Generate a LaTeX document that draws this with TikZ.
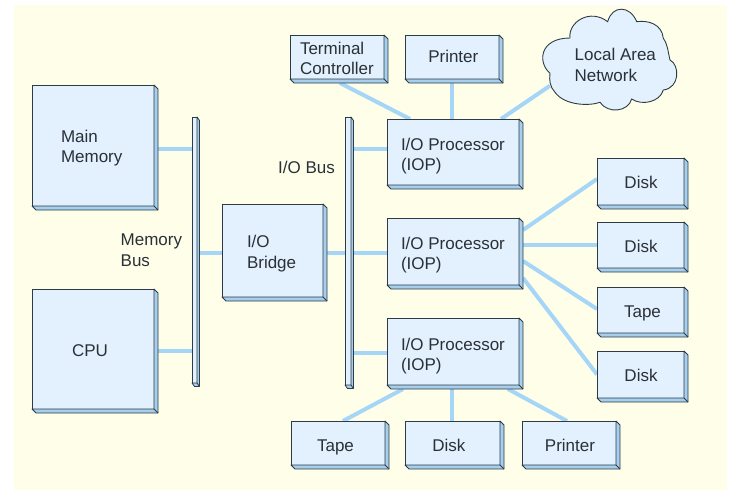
\documentclass[tikz,border=0pt]{standalone}
\usepackage{fontspec}
\setmainfont{Liberation Sans}
\usetikzlibrary{calc,backgrounds}

\definecolor{paper}{HTML}{FFFFE9}
\definecolor{boxfill}{HTML}{E2F1FD}
\definecolor{boxside}{HTML}{A6CFEE}
\definecolor{boxline}{HTML}{2E3B46}
\definecolor{wirecol}{HTML}{A5D6F7}
\definecolor{inkcol}{HTML}{2A3038}

\tikzset{
  iobox/.style={draw=boxline, fill=boxfill, line width=.9pt, inner sep=0pt, outer sep=0pt},
  boxface/.style={draw=boxline, fill=boxside, line width=.8pt, line join=round},
  wire/.style={draw=wirecol, line width=4pt},
  txt/.style={font=\fontsize{17}{20.5}\selectfont, text=inkcol},
}

% side and bottom face of a box: name, depth x, depth y
\newcommand{\boxfaces}[3]{
  \draw[boxface] (#1.north east)--++(#2,#3)--($(#1.south east)+(#2,#3)$)--($(#1.south west)+(#2,#3)$)--(#1.south west)--(#1.south east)--cycle;
  \draw[boxface] (#1.south east)--++(#2,#3);
}

\begin{document}
\begin{tikzpicture}[x=1pt,y=-1pt]
\useasboundingbox (0,0) rectangle (734,493);

%%%%%%%%%%%%%-------------boxes with text set to the left
\foreach \n/\xa/\ya/\xb/\yb/\off/\dy/\t in {
  mainmem/32/85/154/206/29/3.2/{Main\\Memory},
  bridge/222/204/323/297/25/2.8/{I/O\\Bridge},
  term/290/35/384/79/10/2.7/{Terminal\\Controller},
  iopa/387/119/519/185/14/2/{I/O Processor\\(IOP)},
  iopb/387/218/519/285/14/2.2/{I/O Processor\\(IOP)},
  iopc/387/318/519/385/14/1.5/{I/O Processor\\(IOP)}}{
\pgfmathsetmacro\boxw{\xb-\xa}
\pgfmathsetmacro\boxh{\yb-\ya}
\pgfmathsetmacro\boxt{\boxw-\off}
\node[iobox, txt, minimum width=\boxw pt, minimum height=\boxh pt] (\n) at ({(\xa+\xb)/2},{(\ya+\yb)/2})
  {\hspace*{\off pt}\raisebox{\dy pt}[0pt][0pt]{\parbox[t]{\boxt pt}{\raggedright \t}}};
\boxfaces{\n}{4}{4}
}

%%%%%%%%%%%%%-------------boxes with centred text
\foreach \n/\xa/\ya/\xb/\yb/\dx/\dy/\t in {
  cpu/32/289/154/409/-3/7.7/CPU,
  printa/405/35/499/79/1.3/5.7/Printer,
  diska/597/158/684/205/.5/6.8/Disk,
  diskb/597/222/684/268/.5/7.3/Disk,
  tapea/597/287/684/333/2/7/Tape,
  diskc/597/351/684/398/.5/7.2/Disk,
  tapeb/291/421/385/465/-2.5/8.7/Tape,
  diskd/405/421/500/465/-3.7/8.7/Disk,
  printb/522/421/616/465/1/8.7/Printer}{
\pgfmathsetmacro\boxw{\xb-\xa}
\pgfmathsetmacro\boxh{\yb-\ya}
\pgfmathsetmacro\twodx{2*\dx}
\node[iobox, txt, minimum width=\boxw pt, minimum height=\boxh pt] (\n) at ({(\xa+\xb)/2},{(\ya+\yb)/2})
  {\hspace*{\twodx pt}\raisebox{-\dy pt}[0pt][0pt]{\t}};
\boxfaces{\n}{4}{4}
}

%%%%%%%%%%%%%-------------buses
\node[iobox, minimum width=5pt, minimum height=266pt] (membus) at (194.5,250) {};
\boxfaces{membus}{2.5}{3.5}
\node[iobox, minimum width=6pt, minimum height=268pt] (iobus) at (348,251) {};
\boxfaces{iobus}{2.5}{3.5}

%%%%%%%%%%%%%-------------cloud
\draw[iobox] (570,38) .. controls (568,22) and (590,8) .. (607.7,21.7)
  .. controls (612,5) and (630,5) .. (636.7,21.7)
  .. controls (648,20) and (662,24) .. (663.3,38.3)
  .. controls (668,45) and (668,52) .. (670,60)
  .. controls (680,65) and (680,88) .. (663.3,90)
  .. controls (660,102) and (642,106) .. (631.7,99)
  .. controls (628,112) and (608,114) .. (600,102.3)
  .. controls (590,106) and (565,106) .. (555,92.3)
  .. controls (550,87) and (549,80) .. (550,73.3)
  .. controls (537,62) and (540,38) .. (570,38) -- cycle;
\node[txt, align=left, inner sep=0pt, anchor=west] (lan) at (574.5,65) {Local Area\\Network};

\node[txt, align=left, inner sep=0pt, anchor=west] (memlabel) at (120.5,250) {Memory\\Bus};
\node[txt, inner sep=0pt, anchor=west] (iolabel) at (278,167) {I/O Bus};

%%%%%%%%%%%%%-------------wires
\begin{scope}[on background layer]
\fill[paper] (14,5) rectangle (727,490);
\draw[wire] (mainmem.east |- 0,148.5)--(membus.west |- 0,148.5);
\draw[wire] (cpu.east |- 0,351)--(membus.west |- 0,351);
\draw[wire] (membus.east |- 0,252.5)--(bridge.west |- 0,252.5);
\draw[wire] (bridge.east |- 0,252.5)--(iobus.west |- 0,252.5);
\foreach \n/\y in {iopa/148.5,iopb/252.5,iopc/353}{
\draw[wire] (iobus.east |- 0,\y)--(\n.west |- 0,\y);}

\draw[wire] ($(term.south west)+(50,4)$)--($(iopa.north west)+(23,0)$);
\draw[wire] ($(printa.south west)+(47,4)$)--($(iopa.north west)+(65,0)$);
\draw[wire] ($(iopa.north west)+(114,0)$)--($(lan.south west)+(-24.5,4)$);

\draw[wire] ($(iopb.east)+(4,-21.5)$)--($(diska.west)+(0,-2.5)$);
\draw[wire] (iopb.east |- diskb.west)--(diskb.west);
\draw[wire] ($(iopb.east)+(4,9.5)$)--($(tapea.west)+(0,-1)$);
\draw[wire] ($(iopb.east)+(4,26.5)$)--($(diskc.west)+(0,0)$);

\draw[wire] ($(iopc.south west)+(16,4)$)--($(tapeb.north west)+(52,0)$);
\draw[wire] ($(iopc.south west)+(65,4)$)--($(diskd.north west)+(47,0)$);
\draw[wire] ($(iopc.south west)+(121,4)$)--($(printb.north west)+(45,0)$);
\end{scope}

\end{tikzpicture}
\end{document}
